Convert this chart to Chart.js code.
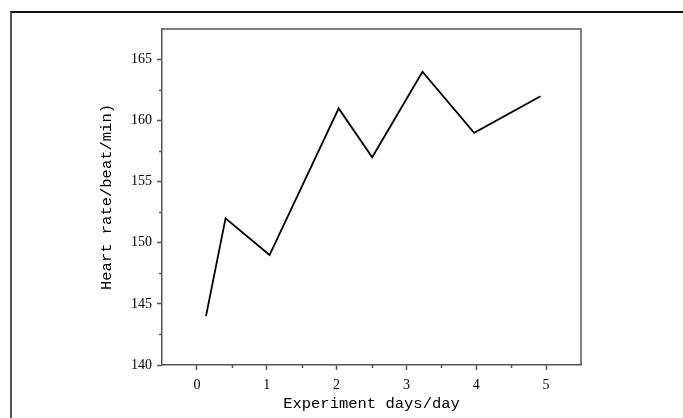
<!DOCTYPE html>
<html>
<head>
<meta charset="utf-8">
<script src="https://cdn.jsdelivr.net/npm/chart.js@4/dist/chart.umd.min.js"></script>
<style>
    html, body { margin: 0; padding: 0; background: #fff; }
    #wrap { position: relative; width: 683px; height: 418px; overflow: hidden; }
    #frame {
        position: absolute; left: 10px; top: 11px; width: 700px; height: 440px;
        border-left: 2px solid #555; border-top: 2px solid #111;
    }
    #chart { position: absolute; left: 0; top: 0; }
</style>
</head>
<body>
<div id="wrap">
    <div id="frame"></div>
    <canvas id="chart" width="683" height="418"></canvas>
</div>
<script>
// -------------------------- data
const days = [0.13, 0.41, 1.04, 2.03, 2.51, 3.23, 3.97, 4.92];
const heartRate = [144, 152, 149, 161, 157, 164, 159, 162];

const X_MIN = -0.5, X_MAX = 5.5;
const Y_MIN = 140, Y_MAX = 167.5;

const AXIS_COLOR = '#555';
const TICK_FONT = { family: '"Liberation Serif", "Times New Roman", serif', size: 14 };
const TITLE_FONT = { family: '"Liberation Mono", "Courier New", monospace', size: 15.5 };

// label only the major ticks
function isMajor(value, step) {
    return Math.abs(value / step - Math.round(value / step)) < 1e-6;
}

// short minor ticks, drawn through the scales
const minorTicks = {
    id: 'minorTicks',
    afterDraw(chart) {
        const { ctx, chartArea, scales } = chart;
        ctx.save();
        ctx.strokeStyle = AXIS_COLOR;
        ctx.lineWidth = 1.5;
        ctx.beginPath();
        scales.x.ticks.forEach(t => {
            if (!isMajor(t.value, 1) && t.value > X_MIN && t.value < X_MAX) {
                const px = Math.round(scales.x.getPixelForValue(t.value)) + 0.5;
                ctx.moveTo(px, chartArea.bottom);
                ctx.lineTo(px, chartArea.bottom + 3);
            }
        });
        scales.y.ticks.forEach(t => {
            if (!isMajor(t.value, 5) && t.value > Y_MIN && t.value < Y_MAX) {
                const py = Math.round(scales.y.getPixelForValue(t.value)) + 0.5;
                ctx.moveTo(chartArea.left, py);
                ctx.lineTo(chartArea.left - 3, py);
            }
        });
        ctx.stroke();
        // top and right side of the box
        ctx.beginPath();
        ctx.moveTo(chartArea.left, chartArea.top);
        ctx.lineTo(chartArea.right, chartArea.top);
        ctx.lineTo(chartArea.right, chartArea.bottom);
        ctx.stroke();
        ctx.restore();
    }
};

const config = {
    type: 'line',
    data: {
        datasets: [{
            label: 'Heart rate',
            data: days.map((d, i) => ({ x: d, y: heartRate[i] })),
            borderColor: '#000',
            borderWidth: 1.8,
            pointRadius: 0,
            fill: false,
            tension: 0
        }]
    },
    options: {
        responsive: false,
        animation: false,
        layout: { padding: { left: 90, right: 102, top: 29, bottom: 0 } },
        plugins: { legend: { display: false }, tooltip: { enabled: false } },
        scales: {
            x: {
                type: 'linear',
                min: X_MIN,
                max: X_MAX,
                afterFit: scale => { scale.height = 53; },
                border: { color: AXIS_COLOR, width: 1.5 },
                grid: {
                    drawOnChartArea: false,
                    tickLength: 5,
                    tickWidth: 1.5,
                    tickColor: c => isMajor(c.tick.value, 1) ? AXIS_COLOR : 'transparent'
                },
                ticks: {
                    stepSize: 0.5,
                    autoSkip: false,
                    maxRotation: 0,
                    color: '#000',
                    font: TICK_FONT,
                    padding: 7,
                    callback: v => isMajor(v, 1) ? String(Math.round(v)) : ''
                },
                title: {
                    display: true,
                    text: 'Experiment days/day',
                    color: '#000',
                    font: TITLE_FONT,
                    padding: { top: 0, bottom: 5 }
                }
            },
            y: {
                type: 'linear',
                min: Y_MIN,
                max: Y_MAX,
                afterFit: scale => { scale.width = 72; },
                border: { color: AXIS_COLOR, width: 1.5 },
                grid: {
                    drawOnChartArea: false,
                    tickLength: 5,
                    tickWidth: 1.5,
                    tickColor: c => isMajor(c.tick.value, 5) ? AXIS_COLOR : 'transparent'
                },
                ticks: {
                    stepSize: 2.5,
                    autoSkip: false,
                    color: '#000',
                    font: TICK_FONT,
                    padding: 5,
                    callback: v => isMajor(v, 5) ? String(Math.round(v)) : ''
                },
                title: {
                    display: true,
                    text: 'Heart rate/beat/min)',
                    color: '#000',
                    font: TITLE_FONT,
                    padding: { top: 8, bottom: 0 }
                }
            }
        }
    },
    plugins: [minorTicks]
};

new Chart(document.getElementById('chart'), config);
</script>
</body>
</html>
